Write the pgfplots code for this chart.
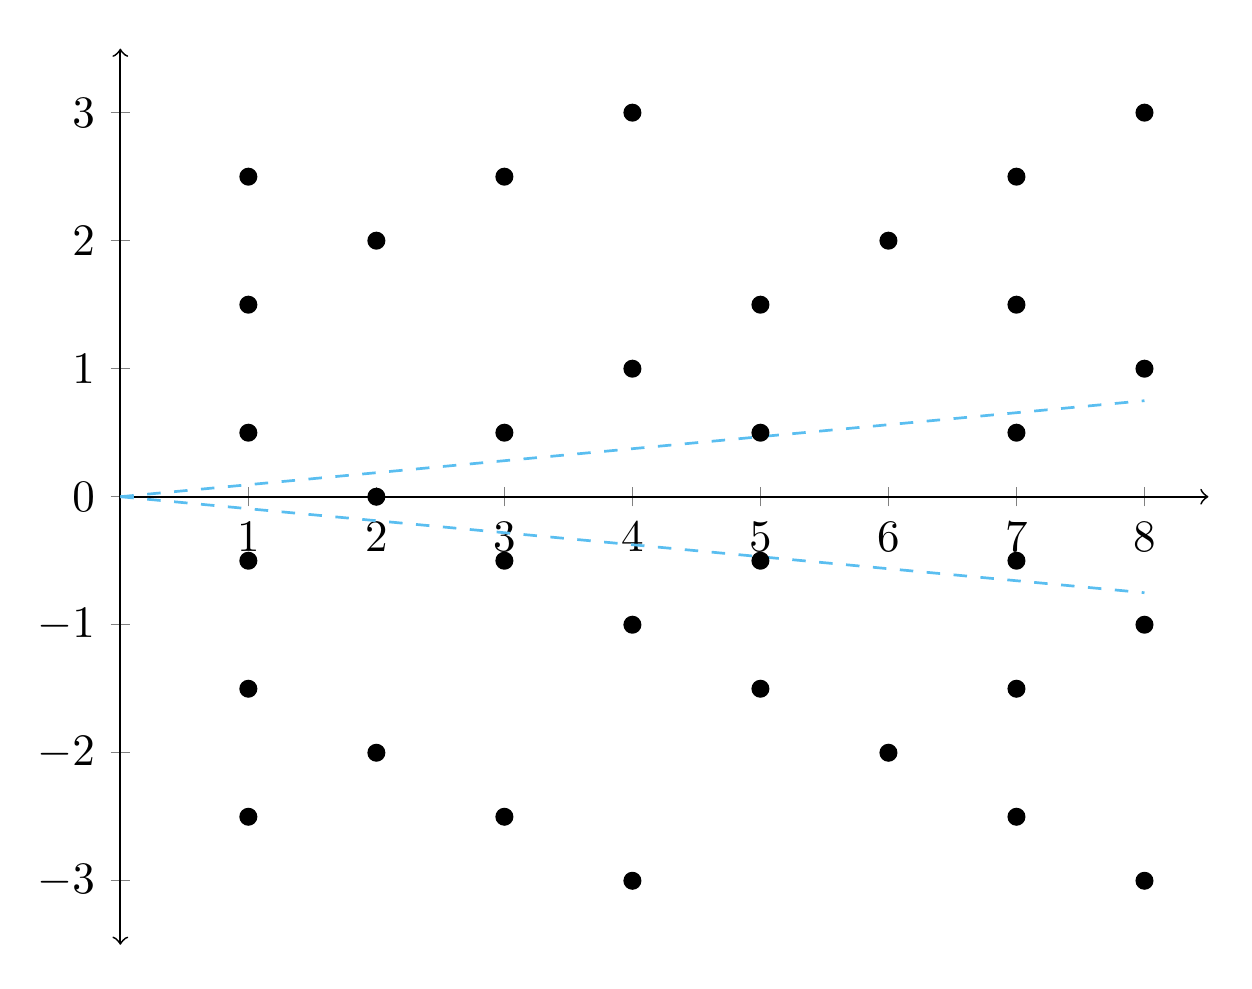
\documentclass[border=0pt]{standalone}
\usepackage{pgfplots}
\pgfplotsset{compat=1.18}
\definecolor{dashblue}{RGB}{90,190,240}
\begin{document}
\begin{tikzpicture}
\begin{axis}[
    x=1cm, y=1cm,
    axis lines=middle,
    xmin=0, xmax=8.5,
    ymin=-3.5, ymax=3.5,
    xtick={1,...,8},
    ytick={-3,...,3},
    hide obscured y ticks=false,
    x axis line style={->},
    y axis line style={<->},
    clip=false,
]
% lattice points
\addplot[only marks, mark=*, mark size=1.8pt, black] coordinates {
    (1,2.5) (1,1.5) (1,0.5) (1,-0.5) (1,-1.5) (1,-2.5)
    (2,2) (2,0) (2,-2)
    (3,2.5) (3,0.5) (3,-0.5) (3,-2.5)
    (4,3) (4,1) (4,-1) (4,-3)
    (5,1.5) (5,0.5) (5,-0.5) (5,-1.5)
    (6,2) (6,-2)
    (7,2.5) (7,1.5) (7,0.5) (7,-0.5) (7,-1.5) (7,-2.5)
    (8,3) (8,1) (8,-1) (8,-3)
};
% bounding rays
\addplot[dashblue, dashed, semithick] coordinates {(0,0) (8,0.75)};
\addplot[dashblue, dashed, semithick] coordinates {(0,0) (8,-0.75)};
% white margin as in the reference
\path (axis cs:-0.94,-3.84) rectangle (axis cs:8.84,3.88);
\end{axis}
\end{tikzpicture}
\end{document}
